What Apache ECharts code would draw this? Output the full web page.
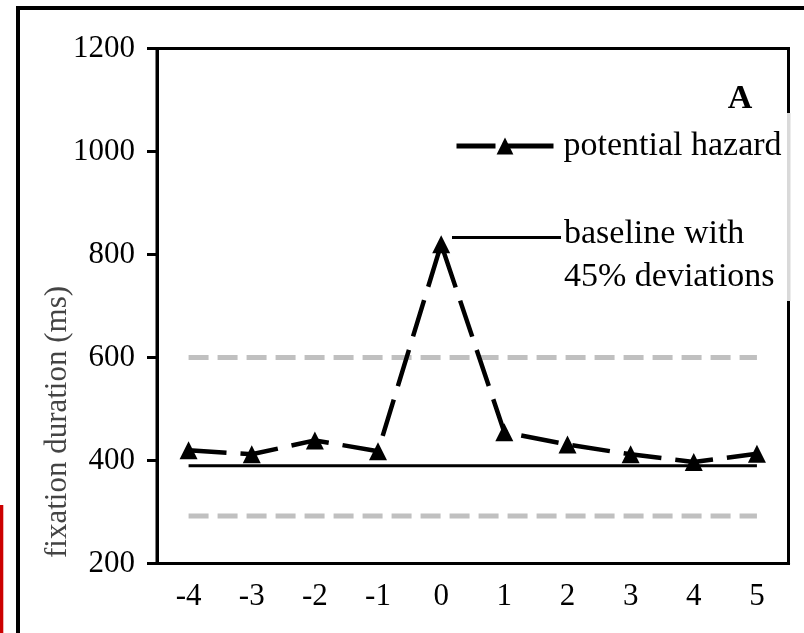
<!DOCTYPE html>
<html>
<head>
<meta charset="utf-8">
<script src="https://cdn.jsdelivr.net/npm/echarts@6/dist/echarts.min.js"></script>
<style>html,body{margin:0;padding:0;background:#fff;}#c{width:804px;height:633px;}</style>
</head>
<body>
<div id="c"></div>
<script>
const categories = ['-4','-3','-2','-1','0','1','2','3','4','5'];
const hazard = [420, 412, 439, 418, 820, 455, 431, 412, 397, 413];
const baseline = [390, 390, 390, 390, 390, 390, 390, 390, 390, 390];
const upperDev = [600, 600, 600, 600, 600, 600, 600, 600, 600, 600];
const lowerDev = [292, 292, 292, 292, 292, 292, 292, 292, 292, 292];
const yTicks = { min: 200, max: 1200, interval: 200 };

const FONT = 'Liberation Serif';
const chart = echarts.init(document.getElementById('c'), null, { renderer: 'canvas' });
chart.setOption({
  animation: false,
  backgroundColor: '#fff',
  grid: { left: 157, right: 15.5, top: 48.5, bottom: 69.5, show: true, borderColor: '#000', borderWidth: 3, backgroundColor: 'transparent' },
  legend: {
    data: ['potential hazard'],
    left: 449, top: 122,
    itemWidth: 97, itemHeight: 21,
    itemStyle: { color: '#000' },
    lineStyle: { color: '#000', width: 5, type: [39, 9, 60, 0] },
    textStyle: { fontFamily: FONT, fontSize: 34, color: '#000', lineHeight: 38, padding: [0, 0, 0, 5] }
  },
  xAxis: {
    type: 'category', data: categories, boundaryGap: true,
    axisLine: { lineStyle: { color: '#000', width: 3 } },
    axisTick: { show: false },
    axisLabel: { fontFamily: FONT, fontSize: 31, color: '#000', margin: 18 },
    splitLine: { show: false }
  },
  yAxis: {
    type: 'value', min: yTicks.min, max: yTicks.max, interval: yTicks.interval,
    axisLine: { show: true, lineStyle: { color: '#000', width: 3 } },
    axisTick: { show: true, inside: false, length: 10, lineStyle: { color: '#000', width: 3 } },
    axisLabel: { fontFamily: FONT, fontSize: 31, color: '#000', margin: 22, formatter: function (v) { return String(v); } },
    splitLine: { show: false }
  },
  series: [
    { name: 'upper', type: 'line', data: upperDev, symbol: 'none', silent: true, z: 1,
      lineStyle: { color: '#c0c0c0', width: 5, type: [20, 9] } },
    { name: 'lower', type: 'line', data: lowerDev, symbol: 'none', silent: true, z: 1,
      lineStyle: { color: '#c0c0c0', width: 5, type: [20, 9] } },
    { name: 'baseline', type: 'line', data: baseline, symbol: 'none', silent: true, z: 2,
      lineStyle: { color: '#000', width: 3, type: 'solid' } },
    { name: 'potential hazard', type: 'line', data: hazard, z: 3,
      symbol: 'triangle', symbolSize: 18,
      itemStyle: { color: '#000' },
      lineStyle: { color: '#000', width: 4.5, type: [38, 14] } }
  ],
  graphic: [
    { type: 'rect', shape: { x: 0, y: 505, width: 3.3, height: 128 }, style: { fill: '#cc0000' }, z: 10 },
    { type: 'line', shape: { x1: 18, y1: 8, x2: 18, y2: 633 }, style: { stroke: '#000', lineWidth: 4 }, z: 10 },
    { type: 'line', shape: { x1: 16, y1: 8, x2: 804, y2: 8 }, style: { stroke: '#000', lineWidth: 4 }, z: 10 },
    { type: 'rect', shape: { x: 787, y: 113, width: 3.5, height: 188 }, style: { fill: '#d9d9d9' }, z: 10 },
    { type: 'text', x: 740, y: 99, z: 10,
      style: { text: 'A', font: 'bold 34px "Liberation Serif"', fill: '#000', textAlign: 'center', textVerticalAlign: 'middle' } },
    { type: 'line', shape: { x1: 452, y1: 237.5, x2: 561, y2: 237.5 }, style: { stroke: '#000', lineWidth: 3 }, z: 10 },
    { type: 'text', x: 564, y: 234, z: 10,
      style: { text: 'baseline with', font: '34px "Liberation Serif"', fill: '#000', textAlign: 'left', textVerticalAlign: 'middle' } },
    { type: 'text', x: 564, y: 277, z: 10,
      style: { text: '45% deviations', font: '34px "Liberation Serif"', fill: '#000', textAlign: 'left', textVerticalAlign: 'middle' } },
    { type: 'text', x: 58, y: 422, rotation: Math.PI / 2, z: 10,
      style: { text: 'fixation duration (ms)', font: '31px "Liberation Serif"', fill: '#444', textAlign: 'center', textVerticalAlign: 'middle' } }
  ]
});
</script>
</body>
</html>
